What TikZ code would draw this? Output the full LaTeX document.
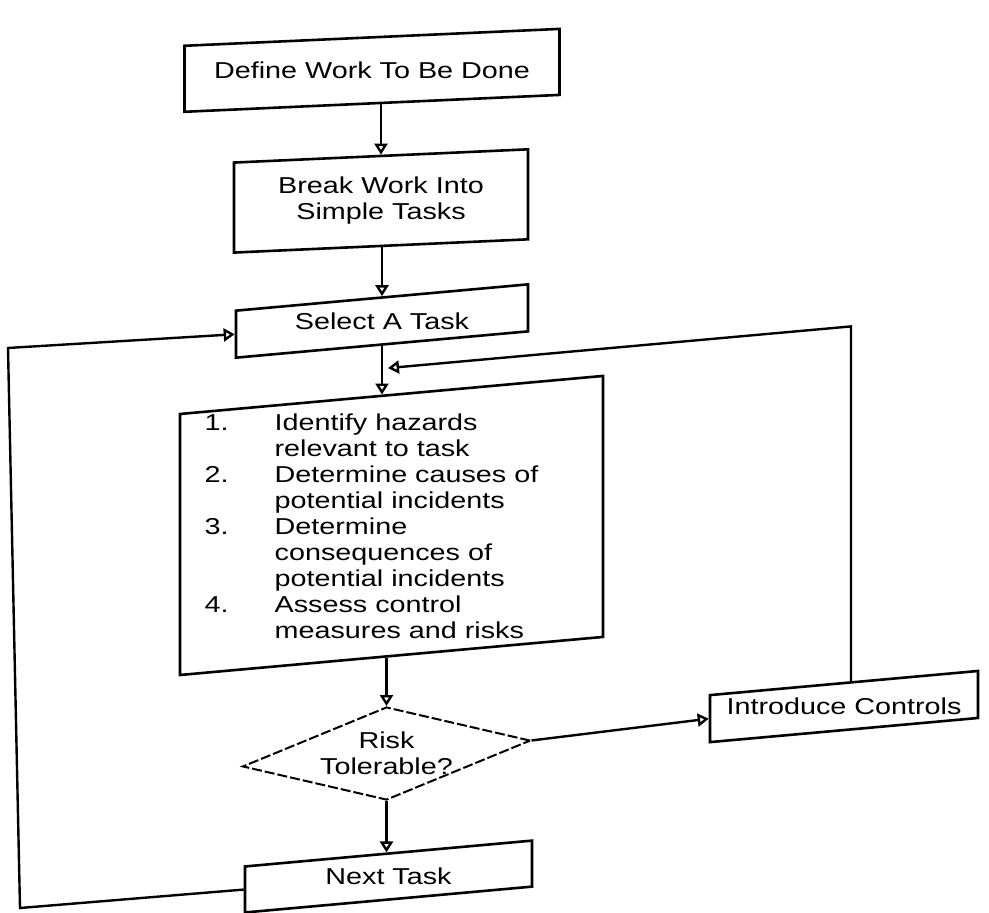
\documentclass[tikz,border=0pt]{standalone}
\usepackage{fontspec}
\setmainfont[FakeStretch=1.25]{Liberation Sans}
\usetikzlibrary{arrows.meta,shapes.geometric}
\tikzset{
  frame/.style={draw, rectangle, line width=1.3pt, inner sep=0pt, transform shape},
  decision/.style={draw, diamond, inner sep=0pt, line width=1pt,
              dash pattern=on 5pt off 1.5pt, transform shape},
  txt/.style={inner sep=0pt, align=center, font=\fontsize{11.5}{13}\selectfont},
  arr/.style={line width=1.2pt, -{Triangle[open,length=5.5pt,width=6.5pt]}},
}
\begin{document}
\begin{tikzpicture}[x=0.5pt,y=-0.5pt]
\fill[white] (0,0) rectangle (989,913);
\useasboundingbox (0,0) rectangle (989,913);
% upper part of the scan (smaller skew)
\begin{scope}[yslant=0.045]
  \node[frame, minimum width=187.5pt, minimum height=33pt] (def) at (372,87.1) {};
  \node[txt] (deft) at (def.center) {Define Work To Be Done};
  \node[frame, minimum width=147pt, minimum height=45pt] (brk) at (381,218.1) {};
  \node[txt] (brkt) at (brk.center) {Break Work Into\\Simple Tasks};
\end{scope}
% lower part of the scan
\begin{scope}[yslant=0.09]
  \node[frame, minimum width=146pt, minimum height=23.5pt] (sel) at (382,355.4) {};
  \node[txt] (selt) at (sel.center) {Select A Task};
  \node[frame, minimum width=211.5pt, minimum height=130.5pt] (big) at (391.5,560.7) {};
  \node[txt, yshift=-2pt] (bigt) at (big.center)
    {\begin{tabular}{@{}p{35pt}@{}l@{\hspace{20pt}}}
      1. & Identify hazards\\
         & relevant to task\\
      2. & Determine causes of\\
         & potential incidents\\
      3. & Determine\\
         & consequences of\\
         & potential incidents\\
      4. & Assess control\\
         & measures and risks
     \end{tabular}};
  \node[decision, minimum width=144pt, minimum height=46.5pt] (dia) at (386.5,788.3) {};
  \node[txt] (diat) at (dia.center) {Risk\\Tolerable?};
  \node[frame, minimum width=134pt, minimum height=23.5pt] (ic) at (844,782.5) {};
  \node[txt] (ict) at (ic.center) {Introduce Controls};
  \node[frame, minimum width=143.5pt, minimum height=23pt] (nt) at (388.5,911.5) {};
  \node[txt] (ntt) at (nt.center) {Next Task};
  \coordinate (lb) at (20,909.8);
  \coordinate (lt) at (8,348.7);
  \coordinate (rc) at (851,403);
  \coordinate (mj) at (388,403);
  % connectors
  \draw[arr] (def.south -| brk.north) -- (brk.north);
  \draw[arr] (brk.south -| sel.north) -- (sel.north);
  \draw[arr] (sel.south) -- (sel.south |- big.north);
  \draw[arr] (rc |- ic.north) -- (rc) -- (mj);
  \draw[arr] (big.south -| dia.north) -- (dia.north);
  \draw[arr] (dia.south) -- (dia.south |- nt.north);
  \draw[arr] (dia.east) -- (ic.west);
  \draw[arr] (nt.west) -- (lb) -- (lt) -- (sel.west);
\end{scope}
\end{tikzpicture}
\end{document}
